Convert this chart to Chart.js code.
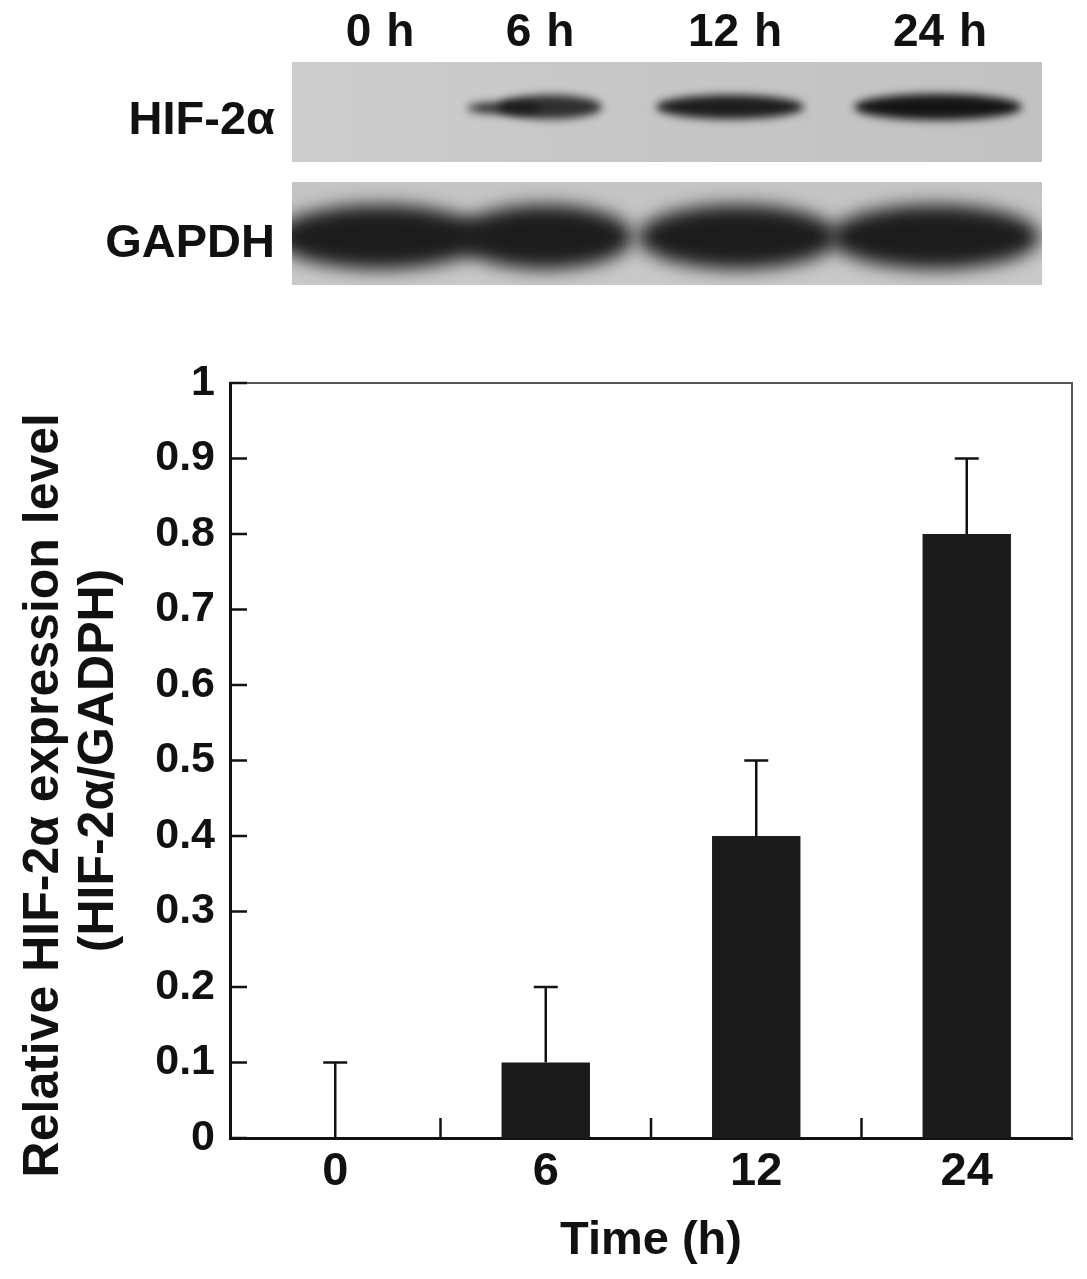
<!DOCTYPE html>
<html>
<head>
<meta charset="utf-8">
<script src="https://cdn.jsdelivr.net/npm/chart.js@4"></script>
<style>
  body { margin: 0; background: #fff; width: 1087px; height: 1279px; position: relative; overflow: hidden;
         font-family: "Liberation Sans", Arial, sans-serif; font-weight: bold; color: #111; }
  #blot { position: absolute; left: 0; top: 0; }
  .lane { position: absolute; top: 30px; transform: translate(-50%, -50%); font-size: 46px; white-space: nowrap; word-spacing: 2px; }
  .prot { position: absolute; right: 812px; transform: translateY(-50%); font-size: 47px; white-space: nowrap; }
  #wrap { position: absolute; left: 0; top: 300px; width: 1087px; height: 979px; }
</style>
</head>
<body>
<canvas id="blot" width="1087" height="300"></canvas>
<div id="labels"></div>
<div class="prot" style="top:117px">HIF-2α</div>
<div class="prot" style="top:240px">GAPDH</div>
<div id="wrap"><canvas id="chart"></canvas></div>
<script>
var times = ['0', '6', '12', '24'];
var laneLabels = ['0 h', '6 h', '12 h', '24 h'];
var means = [0, 0.1, 0.4, 0.8];
var errs = [0.1, 0.1, 0.1, 0.1];
var hifBand = [0, 0.85, 0.95, 1];
var gapdhBand = [1, 1, 1, 1];

// lane headers
var laneX = [380, 540, 735, 940];
var lab = document.getElementById('labels');
laneLabels.forEach(function (t, i) {
  var d = document.createElement('div');
  d.className = 'lane';
  d.style.left = laneX[i] + 'px';
  d.textContent = t;
  lab.appendChild(d);
});

// blot picture
var b = document.getElementById('blot').getContext('2d');
var g1 = b.createLinearGradient(292, 0, 1042, 0);
g1.addColorStop(0, '#cdcdcd');
g1.addColorStop(0.5, '#c6c6c6');
g1.addColorStop(1, '#c2c2c2');
b.fillStyle = g1;
b.fillRect(292, 62, 750, 100);
var g2 = b.createLinearGradient(0, 182, 0, 285);
g2.addColorStop(0, '#c4c4c4');
g2.addColorStop(1, '#c9c9c9');
b.fillStyle = g2;
b.fillRect(292, 182, 750, 103);

var hifShape = [[380, 70, 9], [550, 52, 12], [730, 74, 12], [938, 84, 13]];
b.save();
b.beginPath(); b.rect(292, 62, 750, 100); b.clip();
b.filter = 'blur(4px)';
hifBand.forEach(function (v, i) {
  if (!v) return;
  var s = hifShape[i];
  b.fillStyle = 'rgba(20,20,20,' + v + ')';
  b.beginPath(); b.ellipse(s[0], 107, s[1], s[2], 0, 0, 2 * Math.PI); b.fill();
  if (i === 1) { b.beginPath(); b.ellipse(s[0] - 45, 108, 38, 6, 0, 0, 2 * Math.PI); b.fill(); }
});
b.restore();

var gapShape = [[380, 105], [545, 88], [738, 100], [935, 105]];
b.save();
b.beginPath(); b.rect(292, 182, 750, 103); b.clip();
b.filter = 'blur(9px)';
gapdhBand.forEach(function (v, i) {
  var s = gapShape[i];
  b.fillStyle = 'rgba(28,28,28,' + v + ')';
  b.beginPath(); b.ellipse(s[0], 237, s[1], 32, 0, 0, 2 * Math.PI); b.fill();
});
b.restore();

var FONT = '"Liberation Sans", Arial, sans-serif';

var frame = {
  id: 'frame',
  afterDatasetsDraw: function (chart) {
    var ctx = chart.ctx, a = chart.chartArea, x = chart.scales.x, y = chart.scales.y;
    function line(x0, y0, x1, y1) { ctx.beginPath(); ctx.moveTo(x0, y0); ctx.lineTo(x1, y1); ctx.stroke(); }
    ctx.save();
    ctx.strokeStyle = '#555';
    ctx.lineWidth = 2;
    ctx.beginPath(); ctx.moveTo(a.left, a.top); ctx.lineTo(a.right, a.top); ctx.lineTo(a.right, a.bottom); ctx.stroke();
    ctx.strokeStyle = '#111';
    ctx.lineWidth = 2.5;
    y.ticks.forEach(function (t) {
      var py = y.getPixelForValue(t.value);
      line(a.left, py, a.left + 17, py);
    });
    for (var i = 0; i < times.length - 1; i++) {
      var px = (x.getPixelForValue(i) + x.getPixelForValue(i + 1)) / 2;
      line(px, a.bottom, px, a.bottom - 20);
    }
    means.forEach(function (m, i) {
      var px = x.getPixelForValue(i);
      var y0 = y.getPixelForValue(m), y1 = y.getPixelForValue(m + errs[i]);
      line(px, y0, px, y1);
      line(px - 12, y1, px + 12, y1);
    });
    ctx.restore();
  }
};

var c = document.getElementById('chart');
var chart = new Chart(c, {
  type: 'bar',
  data: {
    labels: times,
    datasets: [{
      data: means,
      backgroundColor: '#1b1b1b',
      borderWidth: 0,
      categoryPercentage: 1,
      barPercentage: 0.42
    }]
  },
  options: {
    responsive: true,
    maintainAspectRatio: false,
    devicePixelRatio: 1,
    animation: false,
    layout: { padding: { top: 83, right: 15, left: 0, bottom: 0 } },
    plugins: { legend: { display: false }, tooltip: { enabled: false } },
    scales: {
      x: {
        afterFit: function (s) { s.height = 141; },
        grid: { display: false, drawTicks: false, offset: true },
        border: { color: '#111', width: 3 },
        ticks: { padding: 6, color: '#111', font: { family: FONT, size: 47, weight: 'bold' } },
        title: { display: true, text: 'Time (h)', color: '#111',
                 font: { family: FONT, size: 47, weight: 'bold' }, padding: { top: 0, bottom: 10 } }
      },
      y: {
        min: 0,
        max: 1,
        afterFit: function (s) { s.width = 230; },
        grid: { display: false, drawTicks: false },
        border: { color: '#111', width: 3 },
        ticks: {
          stepSize: 0.1, padding: 15, color: '#111',
          font: { family: FONT, size: 43, weight: 'bold' },
          callback: function (v) { return String(Math.round(v * 10) / 10); }
        },
        title: {
          display: true,
          text: ['Relative HIF-2α expression level     ', '(HIF-2α/GADPH)'],
          color: '#111',
          font: { family: FONT, size: 50, weight: 'bold', lineHeight: 1.1 },
          padding: { top: 17, bottom: 0 }
        }
      }
    }
  },
  plugins: [frame]
});
</script>
</body>
</html>
